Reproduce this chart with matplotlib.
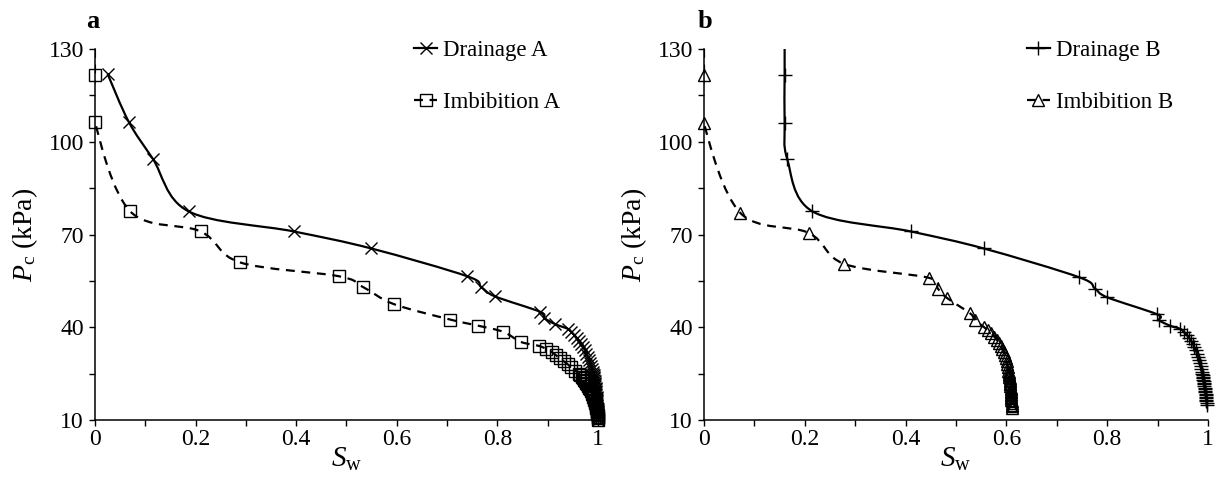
import numpy as np
import matplotlib
matplotlib.use("Agg")
import matplotlib.pyplot as plt
from matplotlib.path import Path
from matplotlib.patches import PathPatch
from matplotlib.lines import Line2D
from matplotlib.ticker import FixedLocator

plt.rcParams['font.family'] = ['Liberation Serif', 'DejaVu Serif']
plt.rcParams['mathtext.fontset'] = 'custom'
plt.rcParams['mathtext.rm'] = 'Liberation Serif'
plt.rcParams['mathtext.it'] = 'Liberation Serif:italic'

# ---------------- data ----------------
drain_a_sw = [0.025, 0.067, 0.115, 0.186, 0.395, 0.549, 0.740, 0.768, 0.795, 0.885,
              0.893, 0.915, 0.940, 0.947, 0.953, 0.958, 0.963, 0.967, 0.971, 0.974,
              0.977, 0.980, 0.982, 0.984, 0.986, 0.988, 0.989, 0.990, 0.991, 0.991,
              0.992, 0.992, 0.993, 0.993, 0.994, 0.994, 0.995, 0.995, 0.995, 0.996,
              0.996, 0.996, 0.997, 0.997, 0.997, 0.997, 0.998, 0.998, 0.998, 0.998,
              0.999, 0.999, 0.999, 0.999, 0.999, 1.000, 1.000, 1.000]
drain_a_pc = [122, 106.5, 94.5, 77.5, 71, 65.5, 56.5, 53, 50, 45,
              43, 41, 39.5, 38.5, 37.5, 36.5, 35.5, 34.5, 33.5, 32.5,
              31.5, 30.5, 29.5, 28.5, 27.5, 26.5, 25.5, 25, 24.5, 24,
              23.5, 23, 22.5, 22, 21.5, 21, 20.5, 20, 19.5, 19,
              18.5, 18, 17.5, 17, 16.5, 16, 15.5, 15, 14.5, 14,
              13.5, 13, 12.5, 12, 11.5, 11, 10.5, 10]

imb_a_sw = [0.000, 0.000, 0.070, 0.210, 0.288, 0.485, 0.533, 0.594, 0.706, 0.762,
            0.812, 0.846, 0.882, 0.897, 0.908, 0.916, 0.924, 0.932, 0.940, 0.947,
            0.955, 0.962, 0.965, 0.968, 0.971, 0.973, 0.975, 0.977, 0.979, 0.981,
            0.983, 0.984, 0.986, 0.987, 0.988, 0.989, 0.990, 0.991, 0.992, 0.993,
            0.994, 0.995, 0.995, 0.996, 0.997, 0.997, 0.998, 0.998, 0.999, 0.999,
            1.000, 1.000]
imb_a_pc = [121.5, 106.5, 77.5, 71, 61, 56.5, 53, 47.5, 42.5, 40.5,
            38.5, 35.3, 34, 33, 32, 31, 30, 29, 28, 27,
            26, 25, 24.5, 24, 23.5, 23, 22.5, 22, 21.5, 21,
            20.5, 20, 19.5, 19, 18.5, 18, 17.5, 17, 16.5, 16,
            15.5, 15, 14.5, 14, 13.5, 13, 12.5, 12, 11.5, 11,
            10.5, 10]
imb_a_top = (0.000, 130)

drain_b_sw = [0.160, 0.160, 0.165, 0.215, 0.410, 0.555, 0.744, 0.776, 0.800, 0.899,
              0.903, 0.925, 0.945, 0.952, 0.958, 0.963, 0.967, 0.970, 0.973, 0.976,
              0.978, 0.980, 0.982, 0.984, 0.986, 0.987, 0.988, 0.989, 0.990, 0.990,
              0.991, 0.991, 0.992, 0.992, 0.993, 0.993, 0.994, 0.994, 0.995, 0.995,
              0.996, 0.996, 0.996, 0.997, 0.997, 0.997, 0.998, 0.998]
drain_b_pc = [121.5, 106, 94.5, 77.5, 71, 65.5, 56.2, 52.5, 49.7, 44.2,
              42.3, 40.5, 39.5, 38.5, 37.5, 36.5, 35.5, 34.5, 33.5, 32.5,
              31.5, 30.5, 29.5, 28.5, 27.5, 26.5, 25.5, 25, 24.5, 24,
              23.5, 23, 22.5, 22, 21.5, 21, 20.5, 20, 19.5, 19,
              18.5, 18, 17.5, 17, 16.5, 16, 15.5, 15]
drain_b_top = (0.160, 130)

imb_b_sw = [0.000, 0.000, 0.072, 0.208, 0.278, 0.446, 0.464, 0.482, 0.528, 0.537,
            0.556, 0.563, 0.570, 0.576, 0.581, 0.585, 0.589, 0.592, 0.595, 0.597,
            0.599, 0.601, 0.602, 0.603, 0.604, 0.605, 0.605, 0.606, 0.606, 0.607,
            0.607, 0.607, 0.608, 0.608, 0.608, 0.609, 0.609, 0.609, 0.609, 0.610,
            0.610, 0.610, 0.610, 0.610, 0.611, 0.611, 0.611, 0.611, 0.611]
imb_b_pc = [121.5, 106, 77, 70.5, 60.5, 56, 52.5, 49.5, 44.5, 42.5,
            40, 39, 38, 37, 36, 35, 34, 33, 32, 31,
            30, 29, 28, 27, 26, 25.5, 25, 24.5, 24, 23.5,
            23, 22.5, 22, 21.5, 21, 20.5, 20, 19.5, 19, 18.5,
            18, 17.5, 17, 16.5, 16, 15.5, 15, 14.5, 14]
imb_b_top = (0.000, 130)

xticks = [0, 0.2, 0.4, 0.6, 0.8, 1.0]
xtick_labels = ['0', '0.2', '0.4', '0.6', '0.8', '1']
xminor = [0.1, 0.3, 0.5, 0.7, 0.9]
yticks = [10, 40, 70, 100, 130]
yminor = [25, 55, 85, 115]

# ---------------- helpers ----------------
def smooth_path(xs, ys):
    """Catmull-Rom (Excel-like smoothing) as cubic Bezier path through points."""
    pts = np.column_stack([xs, ys]).astype(float)
    n = len(pts)
    verts = [pts[0]]
    codes = [Path.MOVETO]
    for i in range(n - 1):
        p0 = pts[i - 1] if i > 0 else pts[i]
        p1 = pts[i]
        p2 = pts[i + 1]
        p3 = pts[i + 2] if i + 2 < n else pts[i + 1]
        c1 = p1 + (p2 - p0) / 6.0
        c2 = p2 - (p3 - p1) / 6.0
        verts += [c1, c2, p2]
        codes += [Path.CURVE4] * 3
    return Path(verts, codes)

def draw_series(ax, xs, ys, top, marker, ms, ls, label):
    lx = ([top[0]] if top else []) + list(xs)
    ly = ([top[1]] if top else []) + list(ys)
    patch = PathPatch(smooth_path(lx, ly), facecolor='none', edgecolor='black',
                      lw=1.6, linestyle=ls, zorder=2, capstyle='butt')
    ax.add_patch(patch)
    ax.plot(xs, ys, linestyle='none', marker=marker, ms=ms, mfc='none',
            mec='black', mew=1.0, zorder=3, clip_on=False)
    return Line2D([], [], color='black', lw=1.6, linestyle=ls, marker=marker,
                  ms=ms, mfc='none', mec='black', mew=1.0, label=label)

def style_axes(ax):
    ax.set_xlim(0, 1)
    ax.set_ylim(10, 130)
    ax.spines['top'].set_visible(False)
    ax.spines['right'].set_visible(False)
    for s in ('left', 'bottom'):
        ax.spines[s].set_linewidth(1.1)
    ax.xaxis.set_major_locator(FixedLocator(xticks))
    ax.set_xticklabels(xtick_labels)
    ax.xaxis.set_minor_locator(FixedLocator(xminor))
    ax.yaxis.set_major_locator(FixedLocator(yticks))
    ax.yaxis.set_minor_locator(FixedLocator(yminor))
    ax.tick_params(which='both', direction='out', length=4.5, width=1.0, labelsize=17)
    ax.tick_params(axis='x', pad=2)
    ax.set_xlabel(r'$S_{\mathrm{w}}$', fontsize=21, labelpad=-3)
    ax.set_ylabel(r'$P_{\mathrm{c}}$ (kPa)', fontsize=20, labelpad=6)

fig = plt.figure(figsize=(12.22, 4.93), dpi=100)
ax1 = fig.add_axes([0.0777, 0.148, 0.4117, 0.7526])
ax2 = fig.add_axes([0.5761, 0.148, 0.4124, 0.7526])

dash = (0, (4, 3))
h1 = draw_series(ax1, drain_a_sw, drain_a_pc, None, 'x', 8, '-', 'Drainage A')
h2 = draw_series(ax1, imb_a_sw, imb_a_pc, imb_a_top, 's', 9, dash, 'Imbibition A')
h3 = draw_series(ax2, drain_b_sw, drain_b_pc, drain_b_top, '+', 10, '-', 'Drainage B')
h4 = draw_series(ax2, imb_b_sw, imb_b_pc, imb_b_top, '^', 9, dash, 'Imbibition B')

for ax, hs, x0 in ((ax1, [h1, h2], 0.635), (ax2, [h3, h4], 0.641)):
    style_axes(ax)
    ax.legend(handles=hs, loc='upper left', bbox_to_anchor=(x0, 1.025), frameon=False,
              fontsize=16.5, handlelength=1.0, handletextpad=0.25, labelspacing=1.35,
              borderpad=0, borderaxespad=0)

fig.text(0.0704, 0.943, 'a', fontsize=19, fontweight='bold', va='baseline')
fig.text(0.5712, 0.943, 'b', fontsize=19, fontweight='bold', va='baseline')

fig.savefig('out.png', dpi=100)
